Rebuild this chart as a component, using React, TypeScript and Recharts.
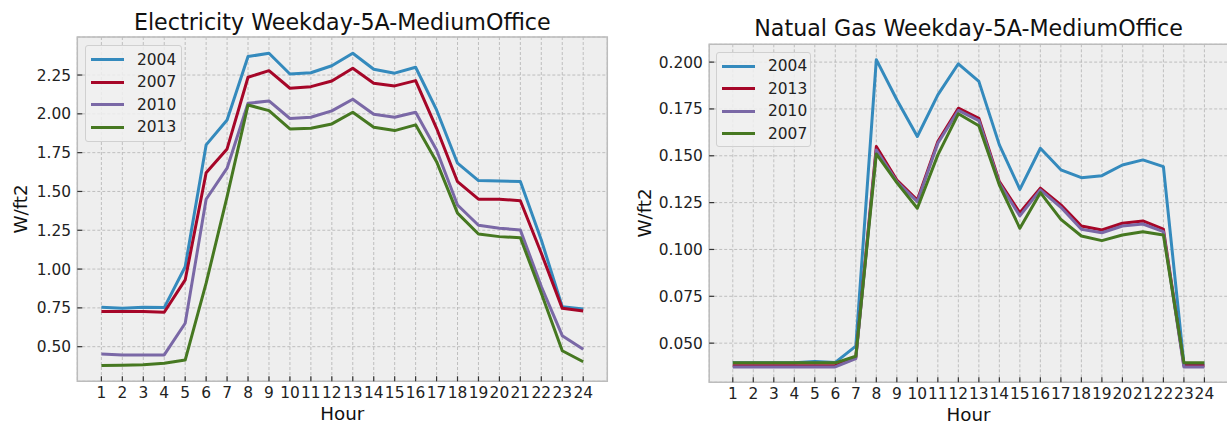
import React from "react";
import { LineChart, Line, XAxis, YAxis, CartesianGrid, ReferenceArea } from "recharts";

const HOURS = [1, 2, 3, 4, 5, 6, 7, 8, 9, 10, 11, 12, 13, 14, 15, 16, 17, 18, 19, 20, 21, 22, 23, 24];

// Electricity, W/ft2
const ELEC_2004 = [0.754, 0.748, 0.754, 0.752, 1.015, 1.8, 1.96, 2.369, 2.39, 2.257, 2.265, 2.31, 2.39, 2.287, 2.262, 2.3, 2.025, 1.682, 1.57, 1.568, 1.564, 1.187, 0.758, 0.743];
const ELEC_2007 = [0.726, 0.726, 0.726, 0.722, 0.93, 1.62, 1.774, 2.236, 2.278, 2.165, 2.175, 2.212, 2.294, 2.197, 2.18, 2.214, 1.907, 1.563, 1.45, 1.45, 1.44, 1.102, 0.747, 0.73];
const ELEC_2010 = [0.453, 0.447, 0.447, 0.447, 0.651, 1.45, 1.65, 2.068, 2.083, 1.97, 1.978, 2.019, 2.094, 1.997, 1.978, 2.01, 1.767, 1.413, 1.282, 1.263, 1.252, 0.887, 0.571, 0.483];
const ELEC_2013 = [0.378, 0.38, 0.384, 0.393, 0.414, 0.909, 1.467, 2.057, 2.021, 1.903, 1.907, 1.935, 2.01, 1.914, 1.892, 1.929, 1.692, 1.36, 1.226, 1.209, 1.202, 0.844, 0.474, 0.403];

// Natural gas, W/ft2
const GAS_2004 = [0.0395, 0.0395, 0.0395, 0.0395, 0.0402, 0.0397, 0.0484, 0.2013, 0.1799, 0.1603, 0.1825, 0.1991, 0.1897, 0.1558, 0.1321, 0.154, 0.1425, 0.1383, 0.1394, 0.1451, 0.1478, 0.1442, 0.039, 0.039];
const GAS_2013 = [0.038, 0.038, 0.038, 0.038, 0.038, 0.038, 0.0424, 0.1549, 0.1371, 0.1264, 0.1576, 0.1754, 0.17, 0.1362, 0.1196, 0.1327, 0.1238, 0.1125, 0.1104, 0.114, 0.1152, 0.1108, 0.038, 0.038];
const GAS_2010 = [0.0373, 0.0373, 0.0373, 0.0373, 0.0373, 0.0373, 0.0418, 0.1531, 0.1362, 0.1255, 0.1567, 0.1742, 0.1688, 0.1353, 0.1179, 0.1318, 0.1225, 0.1108, 0.1089, 0.1125, 0.1136, 0.1095, 0.0373, 0.0373];
const GAS_2007 = [0.0395, 0.0395, 0.0395, 0.0395, 0.0395, 0.0395, 0.043, 0.151, 0.1357, 0.122, 0.1505, 0.1724, 0.166, 0.1344, 0.1113, 0.1303, 0.1161, 0.1072, 0.1047, 0.1077, 0.1095, 0.1077, 0.0395, 0.0395];

const ELEC_TICKS = [0.5, 0.75, 1.0, 1.25, 1.5, 1.75, 2.0, 2.25];
const GAS_TICKS = [0.05, 0.075, 0.1, 0.125, 0.15, 0.175, 0.2];

const BLUE = "#348ABD";
const RED = "#A60628";
const PURPLE = "#7A68A6";
const GREEN = "#467821";

const FONT = "DejaVu Sans, sans-serif";
const TICK_FS = 15.4;
const X_DOMAIN: [number, number] = [-0.15, 25.15];

const elecData = HOURS.map((h, i) => ({
  hour: h,
  y2004: ELEC_2004[i],
  y2007: ELEC_2007[i],
  y2010: ELEC_2010[i],
  y2013: ELEC_2013[i],
}));

const gasData = HOURS.map((h, i) => ({
  hour: h,
  y2004: GAS_2004[i],
  y2013: GAS_2013[i],
  y2010: GAS_2010[i],
  y2007: GAS_2007[i],
}));

type Series = { key: string; label: string; color: string };

const elecSeries: Series[] = [
  { key: "y2004", label: "2004", color: BLUE },
  { key: "y2007", label: "2007", color: RED },
  { key: "y2010", label: "2010", color: PURPLE },
  { key: "y2013", label: "2013", color: GREEN },
];

const gasSeries: Series[] = [
  { key: "y2004", label: "2004", color: BLUE },
  { key: "y2013", label: "2013", color: RED },
  { key: "y2010", label: "2010", color: PURPLE },
  { key: "y2007", label: "2007", color: GREEN },
];

// ticks point inward like the matplotlib bmh style
function XTick(props: any) {
  const { x, y, payload } = props;
  return (
    <g>
      <line x1={x} x2={x} y1={y - 5} y2={y} stroke="#333" strokeWidth={1.2} />
      <text x={x} y={y + 16.8} textAnchor="middle" fontSize={TICK_FS} fontFamily={FONT} fill="#222">
        {payload.value}
      </text>
    </g>
  );
}

function makeYTick(digits: number) {
  return function YTick(props: any) {
    const { x, y, payload } = props;
    return (
      <g>
        <line x1={x} x2={x + 5} y1={y} y2={y} stroke="#333" strokeWidth={1.2} />
        <text x={x - 6.3} y={y} dy="0.36em" textAnchor="end" fontSize={TICK_FS} fontFamily={FONT} fill="#222">
          {Number(payload.value).toFixed(digits)}
        </text>
      </g>
    );
  };
}

interface PanelProps {
  data: any[];
  series: Series[];
  width: number;
  top: number;
  right: number;
  yWidth: number;
  xHeight: number;
  yDomain: [number, number];
  yTicks: number[];
  digits: number;
}

function Panel(p: PanelProps) {
  return (
    <LineChart
      width={p.width}
      height={426}
      data={p.data}
      margin={{ top: p.top, right: p.right, bottom: 0, left: 0 }}
    >
      <CartesianGrid fill="#eeeeee" fillOpacity={1} stroke="#b2b2b2" strokeDasharray="3 2" strokeWidth={0.8} />
      <XAxis
        dataKey="hour"
        type="number"
        domain={X_DOMAIN}
        ticks={HOURS}
        interval={0}
        allowDataOverflow
        height={p.xHeight}
        axisLine={false}
        tickLine={false}
        tickSize={0}
        tickMargin={0}
        tick={<XTick />}
      />
      <YAxis
        type="number"
        domain={p.yDomain}
        ticks={p.yTicks}
        interval={0}
        allowDataOverflow
        width={p.yWidth}
        axisLine={false}
        tickLine={false}
        tickSize={0}
        tickMargin={0}
        tick={makeYTick(p.digits)}
      />
      <ReferenceArea
        x1={X_DOMAIN[0]}
        x2={X_DOMAIN[1]}
        y1={p.yDomain[0]}
        y2={p.yDomain[1]}
        fill="none"
        stroke="#bcbcbc"
        strokeWidth={1.5}
        ifOverflow="visible"
      />
      {p.series.map((s) => (
        <Line
          key={s.key}
          dataKey={s.key}
          name={s.label}
          type="linear"
          stroke={s.color}
          strokeWidth={3}
          strokeLinejoin="round"
          dot={false}
          activeDot={false}
          isAnimationActive={false}
        />
      ))}
    </LineChart>
  );
}

function LegendBox({ series, left, top, width, height }: { series: Series[]; left: number; top: number; width: number; height: number }) {
  return (
    <div
      style={{
        position: "absolute",
        left,
        top,
        width,
        height,
        boxSizing: "border-box",
        background: "rgba(240,240,240,0.85)",
        border: "1px solid #d0d0d0",
        borderRadius: 3,
        fontFamily: FONT,
        fontSize: TICK_FS,
        color: "#222",
      }}
    >
      {series.map((s, i) => (
        <div key={s.key} style={{ position: "absolute", left: 0, top: 13.5 + i * 22.6 - 10, height: 20, width: "100%" }}>
          <div style={{ position: "absolute", left: 5, top: 8.5, width: 33, height: 3, background: s.color }} />
          <div style={{ position: "absolute", left: 51, top: 0, lineHeight: "20px" }}>{s.label}</div>
        </div>
      ))}
    </div>
  );
}

export default function App() {
  return (
    <div style={{ position: "absolute", left: 0, top: 0, width: 1227, height: 426, overflow: "hidden", background: "#fff" }}>
      <div style={{ position: "absolute", left: 0, top: 0 }}>
        <Panel
          data={elecData}
          series={elecSeries}
          width={610}
          top={37}
          right={2.7}
          yWidth={77.3}
          xHeight={44.7}
          yDomain={[0.277, 2.495]}
          yTicks={ELEC_TICKS}
          digits={2}
        />
      </div>
      <div style={{ position: "absolute", left: 610, top: 0 }}>
        <Panel
          data={gasData}
          series={gasSeries}
          width={620}
          top={44.3}
          right={2}
          yWidth={99.2}
          xHeight={43.7}
          yDomain={[0.0291, 0.2095]}
          yTicks={GAS_TICKS}
          digits={3}
        />
      </div>
      <LegendBox series={elecSeries} left={85} top={45} width={97} height={97} />
      <LegendBox series={gasSeries} left={716} top={51.7} width={95} height={95} />
      <svg width={1227} height={426} style={{ position: "absolute", left: 0, top: 0, pointerEvents: "none" }}>
        <g fontFamily={FONT} fill="#111">
          <text x={342.3} y={29.5} textAnchor="middle" fontSize={22.2}>Electricity Weekday-5A-MediumOffice</text>
          <text x={968.6} y={36} textAnchor="middle" fontSize={22.2}>Natual Gas Weekday-5A-MediumOffice</text>
          <text x={342.3} y={420} textAnchor="middle" fontSize={18.3}>Hour</text>
          <text x={968.6} y={421} textAnchor="middle" fontSize={18.3}>Hour</text>
          <text x={27.3} y={209} textAnchor="middle" fontSize={18.3} transform="rotate(-90 27.3 209)">W/ft2</text>
          <text x={651} y={213} textAnchor="middle" fontSize={18.3} transform="rotate(-90 651 213)">W/ft2</text>
        </g>
      </svg>
    </div>
  );
}
